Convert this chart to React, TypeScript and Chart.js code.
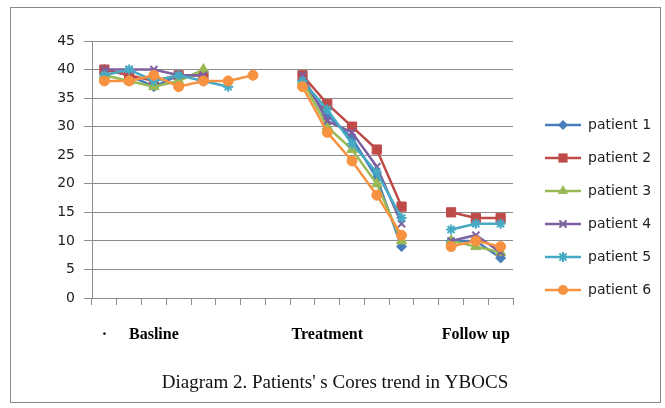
import React, { useEffect, useRef } from 'react';
import { Chart, registerables } from 'chart.js';

Chart.register(...registerables);

// Categories along the x axis (17 slots; gaps separate the three phases)
const categories: string[] = ['·', '', 'Basline', '', '', '', '', '', '', 'Treatment', '', '', '', '', '', 'Follow up', ''];

const yMin = 0;
const yMax = 45;
const yStep = 5;

const patient1 = [40, 39, 37, 39, 39, null, null, null, 38, 32, 28, 21, 9, null, 10, 10, 7];
const patient2 = [40, 39, 38, 39, 39, null, null, null, 39, 34, 30, 26, 16, null, 15, 14, 14];
const patient3 = [39, 38, 37, 38, 40, null, null, null, 38, 30, 26, 20, 10, null, 10, 9, 8];
const patient4 = [40, 40, 40, 39, 39, null, null, null, 39, 31, 29, 23, 13, null, 10, 11, 8];
const patient5 = [39, 40, 38, 39, 38, 37, null, null, 38, 33, 27, 22, 14, null, 12, 13, 13];
const patient6 = [38, 38, 39, 37, 38, 38, 39, null, 37, 29, 24, 18, 11, null, 9, 10, 9];

const seriesNames = ['patient 1', 'patient 2', 'patient 3', 'patient 4', 'patient 5', 'patient 6'];
const seriesData = [patient1, patient2, patient3, patient4, patient5, patient6];
const seriesColors = ['#4A7EBB', '#BE4B48', '#98B954', '#7D60A0', '#46AAC5', '#F69240'];
const seriesMarkers = ['rectRot', 'rect', 'triangle', 'crossRot', 'star', 'circle'];
const markerRadius = [5, 6.5, 6, 5, 5, 5];
const markerBorder = [1, 1, 1, 2, 2, 1];

const titleText = "Diagram 2. Patients' s Cores trend in YBOCS";

function drawMarker(ctx: CanvasRenderingContext2D, style: string, x: number, y: number, r: number) {
  ctx.beginPath();
  switch (style) {
    case 'rectRot':
      ctx.moveTo(x, y - r); ctx.lineTo(x + r, y); ctx.lineTo(x, y + r); ctx.lineTo(x - r, y); ctx.closePath();
      ctx.fill(); break;
    case 'rect': {
      const s = Math.SQRT1_2 * r;
      ctx.rect(x - s, y - s, 2 * s, 2 * s); ctx.fill(); break;
    }
    case 'triangle': {
      const a = (2 * Math.PI) / 3;
      ctx.moveTo(x, y - r);
      ctx.lineTo(x + Math.sin(a) * r, y - Math.cos(a) * r);
      ctx.lineTo(x + Math.sin(2 * a) * r, y - Math.cos(2 * a) * r);
      ctx.closePath(); ctx.fill(); break;
    }
    case 'crossRot': {
      const d = Math.SQRT1_2 * r;
      ctx.moveTo(x - d, y - d); ctx.lineTo(x + d, y + d);
      ctx.moveTo(x - d, y + d); ctx.lineTo(x + d, y - d);
      ctx.lineWidth = 2; ctx.stroke(); break;
    }
    case 'star': {
      const d = Math.SQRT1_2 * r;
      ctx.moveTo(x - d, y - d); ctx.lineTo(x + d, y + d);
      ctx.moveTo(x - d, y + d); ctx.lineTo(x + d, y - d);
      ctx.moveTo(x - r, y); ctx.lineTo(x + r, y);
      ctx.moveTo(x, y - r); ctx.lineTo(x, y + r);
      ctx.lineWidth = 2; ctx.stroke(); break;
    }
    default:
      ctx.arc(x, y, r, 0, Math.PI * 2); ctx.fill();
  }
}

function makeLegendIcon(color: string, style: string, r: number): HTMLCanvasElement {
  const c = document.createElement('canvas');
  c.width = 49;
  c.height = 14;
  const ctx = c.getContext('2d')!;
  ctx.strokeStyle = color;
  ctx.fillStyle = color;
  ctx.lineWidth = 2.5;
  ctx.beginPath();
  ctx.moveTo(13, 7);
  ctx.lineTo(49, 7);
  ctx.stroke();
  drawMarker(ctx, style, 31, 7, r);
  return c;
}

export default function App() {
  const canvasRef = useRef<HTMLCanvasElement | null>(null);

  useEffect(() => {
    if (!canvasRef.current) return;
    const icons = seriesNames.map((_, i) => makeLegendIcon(seriesColors[i], seriesMarkers[i], markerRadius[i]));

    const chart = new Chart(canvasRef.current, {
      type: 'line',
      data: {
        labels: categories,
        datasets: seriesNames.map((name, i) => ({
          label: name,
          data: seriesData[i],
          borderColor: seriesColors[i],
          backgroundColor: seriesColors[i],
          pointBackgroundColor: seriesColors[i],
          pointBorderColor: seriesColors[i],
          pointStyle: seriesMarkers[i] as any,
          pointRadius: markerRadius[i],
          pointBorderWidth: markerBorder[i],
          borderWidth: 2.5,
          spanGaps: false,
          tension: 0,
          order: seriesNames.length - 1 - i,
        })),
      },
      options: {
        responsive: false,
        animation: false,
        layout: { padding: { left: 11, right: 6, top: 41, bottom: 0 } },
        plugins: {
          tooltip: { enabled: false },
          legend: {
            position: 'right',
            align: 'start',
            maxWidth: 146,
            title: { display: true, text: ' ', font: { size: 10, lineHeight: '58px' } as any, padding: 0 },
            labels: {
              usePointStyle: true,
              pointStyleWidth: 49,
              padding: 19,
              color: '#222',
              font: { family: 'DejaVu Sans', size: 14 },
              generateLabels: () =>
                seriesNames.map((name, i) => ({
                  text: name,
                  pointStyle: icons[i] as any,
                  fillStyle: seriesColors[i],
                  strokeStyle: seriesColors[i],
                  lineWidth: 0,
                  hidden: false,
                  datasetIndex: i,
                  fontColor: '#222',
                })),
            },
          },
          title: {
            display: true,
            position: 'bottom',
            text: titleText,
            color: '#111',
            font: { family: 'Liberation Serif', size: 19, weight: 'normal' },
            padding: { top: 0, bottom: 13.6 },
          },
        },
        scales: {
          x: {
            offset: true,
            afterFit: (s: any) => { s.height = 73.6; },
            grid: { display: true, drawOnChartArea: false, drawTicks: true, tickLength: 7, offset: true, color: '#8c8c8c' },
            border: { display: true, color: '#8c8c8c' },
            ticks: {
              autoSkip: false,
              maxRotation: 0,
              minRotation: 0,
              padding: 20,
              color: '#000',
              font: { family: 'Liberation Serif', size: 16, weight: 'bold' },
            },
          },
          y: {
            min: yMin,
            max: yMax,
            afterFit: (s: any) => { s.width = 81; },
            grid: { color: '#8c8c8c', tickLength: 8 },
            border: { display: true, color: '#8c8c8c' },
            ticks: {
              stepSize: yStep,
              padding: 9,
              color: '#222',
              font: { family: 'DejaVu Sans', size: 14 },
            },
          },
        },
      },
    } as any);

    return () => chart.destroy();
  }, []);

  return (
    <div style={{ position: 'fixed', left: 0, top: 0, width: 665, height: 408, background: '#fff' }}>
      <canvas ref={canvasRef} width={665} height={408} style={{ display: 'block' }} />
      <div
        style={{
          position: 'absolute',
          left: 10,
          top: 7,
          width: 651,
          height: 396,
          border: '1px solid #8a8a8a',
          boxSizing: 'border-box',
          pointerEvents: 'none',
        }}
      />
    </div>
  );
}
